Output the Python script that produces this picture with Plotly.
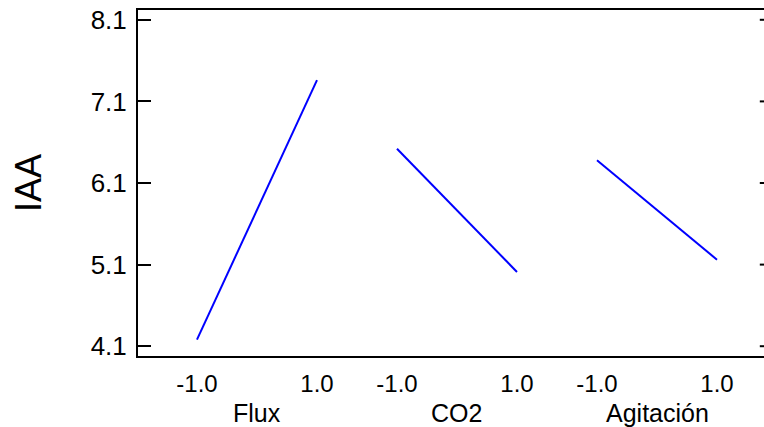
import plotly.graph_objects as go

factors = ["Flux", "CO2", "Agitación"]
levels = [-1.0, 1.0]
level_labels = ["-1.0", "1.0"]
iaa_low = [4.18, 6.52, 6.38]
iaa_high = [7.36, 5.01, 5.16]
y_ticks = [4.1, 5.1, 6.1, 7.1, 8.1]
y_ticklabels = ["4.1", "5.1", "6.1", "7.1", "8.1"]

panel_step = 10.0 / 3.0
offsets = [i * panel_step for i in range(len(factors))]

FONT = "Liberation Sans, Arial, sans-serif"
x_range = [-0.983, 9.45]
fig = go.Figure()

tickvals, ticktext = [], []
for f, off, lo, hi in zip(factors, offsets, iaa_low, iaa_high):
    xs = [off + (lv + 1.0) for lv in levels]
    fig.add_trace(go.Scatter(x=xs, y=[lo, hi], mode="lines",
                             line=dict(color="#0000ff", width=2),
                             showlegend=False, name=f, hoverinfo="skip"))
    tickvals += xs
    ticktext += level_labels
    fig.add_annotation(x=off + 1.0, y=0, xref="x", yref="paper",
                       text=f, showarrow=False, yanchor="middle", yshift=-57,
                       font=dict(family=FONT, size=25, color="black"))

# tick stubs of the cropped right-hand axis, clipped at the plot edge
fig.add_trace(go.Scatter(x=[x_range[1]] * len(y_ticks), y=y_ticks, mode="markers",
                         marker=dict(symbol="line-ew-open", size=6, color="black",
                                     line=dict(color="black", width=2)),
                         cliponaxis=True, showlegend=False, hoverinfo="skip"))

yr = [3.98, 8.22]
fig.update_layout(
    width=764, height=427,
    margin=dict(l=138, r=0, t=10, b=71),
    paper_bgcolor="white", plot_bgcolor="white",
    font=dict(family=FONT, color="black"),
    xaxis=dict(range=x_range, tickvals=tickvals, ticktext=ticktext,
               showgrid=False, zeroline=False, showline=True, linecolor="black",
               linewidth=2, mirror=True, ticks="", tickfont=dict(size=24),
               ticklabelstandoff=5, automargin=False),
    yaxis=dict(range=yr, tickvals=y_ticks, ticktext=y_ticklabels,
               showgrid=False, zeroline=False, showline=True, linecolor="black",
               linewidth=2, ticks="inside", ticklen=13, tickwidth=2,
               tickcolor="black", tickfont=dict(size=26), ticklabelstandoff=4,
               automargin=False),
)
fig.add_annotation(x=0, y=0.5, xref="paper", yref="paper", text="IAA",
                   textangle=-90, showarrow=False, xanchor="center",
                   yanchor="middle", xshift=-110,
                   font=dict(family=FONT, size=36, color="black"))

fig.write_html("out.html")
